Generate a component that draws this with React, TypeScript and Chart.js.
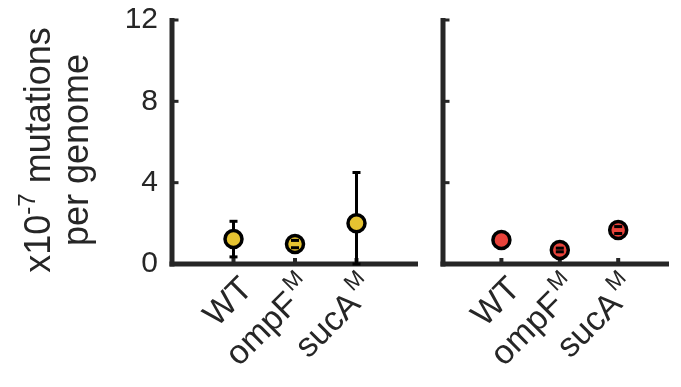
import React, { useEffect, useRef } from 'react';
import { Chart, registerables } from 'chart.js';
Chart.register(...registerables);

const categories = ['WT', 'ompF', 'sucA'];
const categorySup = ['', 'M', 'M'];
const categoryPos = [1, 2, 3];
const leftMeans = [1.23, 0.98, 2.0];
const leftErrLow = [0.35, 0.8, 0.0];
const leftErrHigh = [2.1, 1.16, 4.5];
const rightMeans = [1.18, 0.69, 1.67];
const rightErrLow = [1.18, 0.6, 1.5];
const rightErrHigh = [1.18, 0.78, 1.84];
const yTicks = [0, 4, 8, 12];

const AXIS = '#262626';
const FONT = '"Liberation Sans", Arial, Helvetica, sans-serif';
const LABEL_SIZE = 34;
const SUP_SIZE = 22;
const TITLE_SIZE = 36;

function makePlugin(low: number[], high: number[], showTitle: boolean) {
  return {
    id: 'custom' + (showTitle ? 'L' : 'R'),
    beforeDatasetsDraw(chart: any) {
      const ctx = chart.ctx;
      const xs = chart.scales.x;
      const ys = chart.scales.y;
      const ca = chart.chartArea;
      ctx.save();
      ctx.fillStyle = AXIS;
      ctx.fillRect(ca.left - 2.5, ys.getPixelForValue(12) - 2, 5, ys.getPixelForValue(0) - ys.getPixelForValue(12) + 4.5);
      ctx.fillRect(ca.left - 2.5, ys.getPixelForValue(0) - 2.5, ca.right - ca.left + 2.5, 5);
      yTicks.forEach((t) => {
        if (t === 0) return;
        const py = ys.getPixelForValue(t);
        ctx.fillRect(ca.left, py - 1.5, 6.5, 3);
      });
      categoryPos.forEach((p) => {
        const px = xs.getPixelForValue(p);
        ctx.fillRect(px - 2, ys.getPixelForValue(0) - 6, 4, 4);
      });
      ctx.strokeStyle = '#000';
      ctx.lineWidth = 3;
      categoryPos.forEach((p, i) => {
        if (high[i] - low[i] <= 0) return;
        const px = xs.getPixelForValue(p);
        ctx.beginPath();
        ctx.moveTo(px, ys.getPixelForValue(low[i]));
        ctx.lineTo(px, ys.getPixelForValue(high[i]));
        ctx.stroke();
      });
      ctx.restore();
    },
    afterDatasetsDraw(chart: any) {
      const ctx = chart.ctx;
      const xs = chart.scales.x;
      const ys = chart.scales.y;
      ctx.save();
      ctx.fillStyle = '#000';
      categoryPos.forEach((p, i) => {
        if (high[i] - low[i] <= 0) return;
        const px = xs.getPixelForValue(p);
        [low[i], high[i]].forEach((v) => {
          const py = ys.getPixelForValue(v);
          ctx.fillRect(px - 4, py - 1.5, 8, 3);
        });
      });
      ctx.restore();
    },
    afterDraw(chart: any) {
      const ctx = chart.ctx;
      const xs = chart.scales.x;
      const ys = chart.scales.y;
      const base = ys.getPixelForValue(0);
      ctx.save();
      ctx.fillStyle = AXIS;
      categoryPos.forEach((p, i) => {
        const px = xs.getPixelForValue(p);
        ctx.save();
        ctx.translate(px + 14, base + 20);
        ctx.rotate(-Math.PI / 4);
        ctx.textBaseline = 'middle';
        ctx.textAlign = 'left';
        ctx.font = LABEL_SIZE + 'px ' + FONT;
        const mw = ctx.measureText(categories[i]).width;
        let sw = 0;
        if (categorySup[i]) {
          ctx.font = SUP_SIZE + 'px ' + FONT;
          sw = ctx.measureText(categorySup[i]).width + 3;
        }
        ctx.font = LABEL_SIZE + 'px ' + FONT;
        ctx.fillText(categories[i], -mw - sw, 0);
        if (categorySup[i]) {
          ctx.font = SUP_SIZE + 'px ' + FONT;
          ctx.fillText(categorySup[i], -sw + 3, -13);
        }
        ctx.restore();
      });
      if (showTitle) {
        const cy = 150;
        ctx.save();
        ctx.translate(50, cy);
        ctx.rotate(-Math.PI / 2);
        ctx.textBaseline = 'alphabetic';
        ctx.textAlign = 'left';
        ctx.font = TITLE_SIZE + 'px ' + FONT;
        const a = 'x10';
        const c = ' mutations';
        const aw = ctx.measureText(a).width;
        const cw = ctx.measureText(c).width;
        ctx.font = '24px ' + FONT;
        const b = '-7';
        const bw = ctx.measureText(b).width;
        const total = aw + bw + cw;
        const x0 = -total / 2;
        ctx.font = TITLE_SIZE + 'px ' + FONT;
        ctx.fillText(a, x0, 0);
        ctx.font = '24px ' + FONT;
        ctx.fillText(b, x0 + aw, -15);
        ctx.font = TITLE_SIZE + 'px ' + FONT;
        ctx.fillText(c, x0 + aw + bw, 0);
        ctx.restore();
        ctx.save();
        ctx.translate(88, cy);
        ctx.rotate(-Math.PI / 2);
        ctx.textBaseline = 'alphabetic';
        ctx.textAlign = 'center';
        ctx.font = TITLE_SIZE + 'px ' + FONT;
        ctx.fillText('per genome', 0, 0);
        ctx.restore();
      }
      ctx.restore();
    },
  };
}

function Panel(props: { means: number[]; low: number[]; high: number[]; color: string; left: number; width: number; axisLeft: number; xMax: number; padRight: number; showLabels: boolean }) {
  const ref = useRef<HTMLCanvasElement>(null);
  useEffect(() => {
    if (!ref.current) return;
    const chart = new Chart(ref.current, {
      type: 'scatter',
      data: {
        datasets: [
          {
            data: categoryPos.map((p, i) => ({ x: p, y: props.means[i] })),
            pointRadius: 8.5,
            pointHoverRadius: 8.5,
            pointBorderWidth: 3.5,
            pointBorderColor: '#000',
            pointBackgroundColor: props.color,
            clip: false as any,
          },
        ],
      },
      options: {
        animation: false,
        responsive: false,
        maintainAspectRatio: false,
        events: [],
        layout: { padding: { left: 0, right: props.padRight, top: 20, bottom: 387 - 264 } },
        plugins: { legend: { display: false }, tooltip: { enabled: false } },
        scales: {
          x: { type: 'linear', min: 0, max: props.xMax, display: false },
          y: {
            type: 'linear',
            min: 0,
            max: 12,
            afterFit: (s: any) => {
              s.width = props.axisLeft;
              s.paddingTop = 0;
              s.paddingBottom = 0;
            },
            afterBuildTicks: (s: any) => {
              s.ticks = yTicks.map((v) => ({ value: v }));
            },
            grid: { display: false, drawTicks: false },
            border: { display: false },
            ticks: {
              display: props.showLabels,
              padding: 14,
              color: AXIS,
              font: { size: 30, family: FONT },
            },
          },
        },
      },
      plugins: [makePlugin(props.low, props.high, props.showLabels)],
    });
    return () => chart.destroy();
  }, []);
  return (
    <canvas
      ref={ref}
      width={props.width}
      height={387}
      style={{ position: 'absolute', left: props.left, top: 0, width: props.width, height: 387 }}
    />
  );
}

export default function App() {
  return (
    <div style={{ position: 'fixed', left: 0, top: 0, width: 681, height: 387, background: '#fff', overflow: 'hidden' }}>
      <Panel means={leftMeans} low={leftErrLow} high={leftErrHigh} color="#E6C331" left={0} width={430} axisLeft={172} xMax={4} padRight={430 - 418} showLabels={true} />
      <Panel means={rightMeans} low={rightErrLow} high={rightErrHigh} color="#E8423A" left={425} width={256} axisLeft={18} xMax={(681 - 443) / 61.5} padRight={0} showLabels={false} />
    </div>
  );
}
